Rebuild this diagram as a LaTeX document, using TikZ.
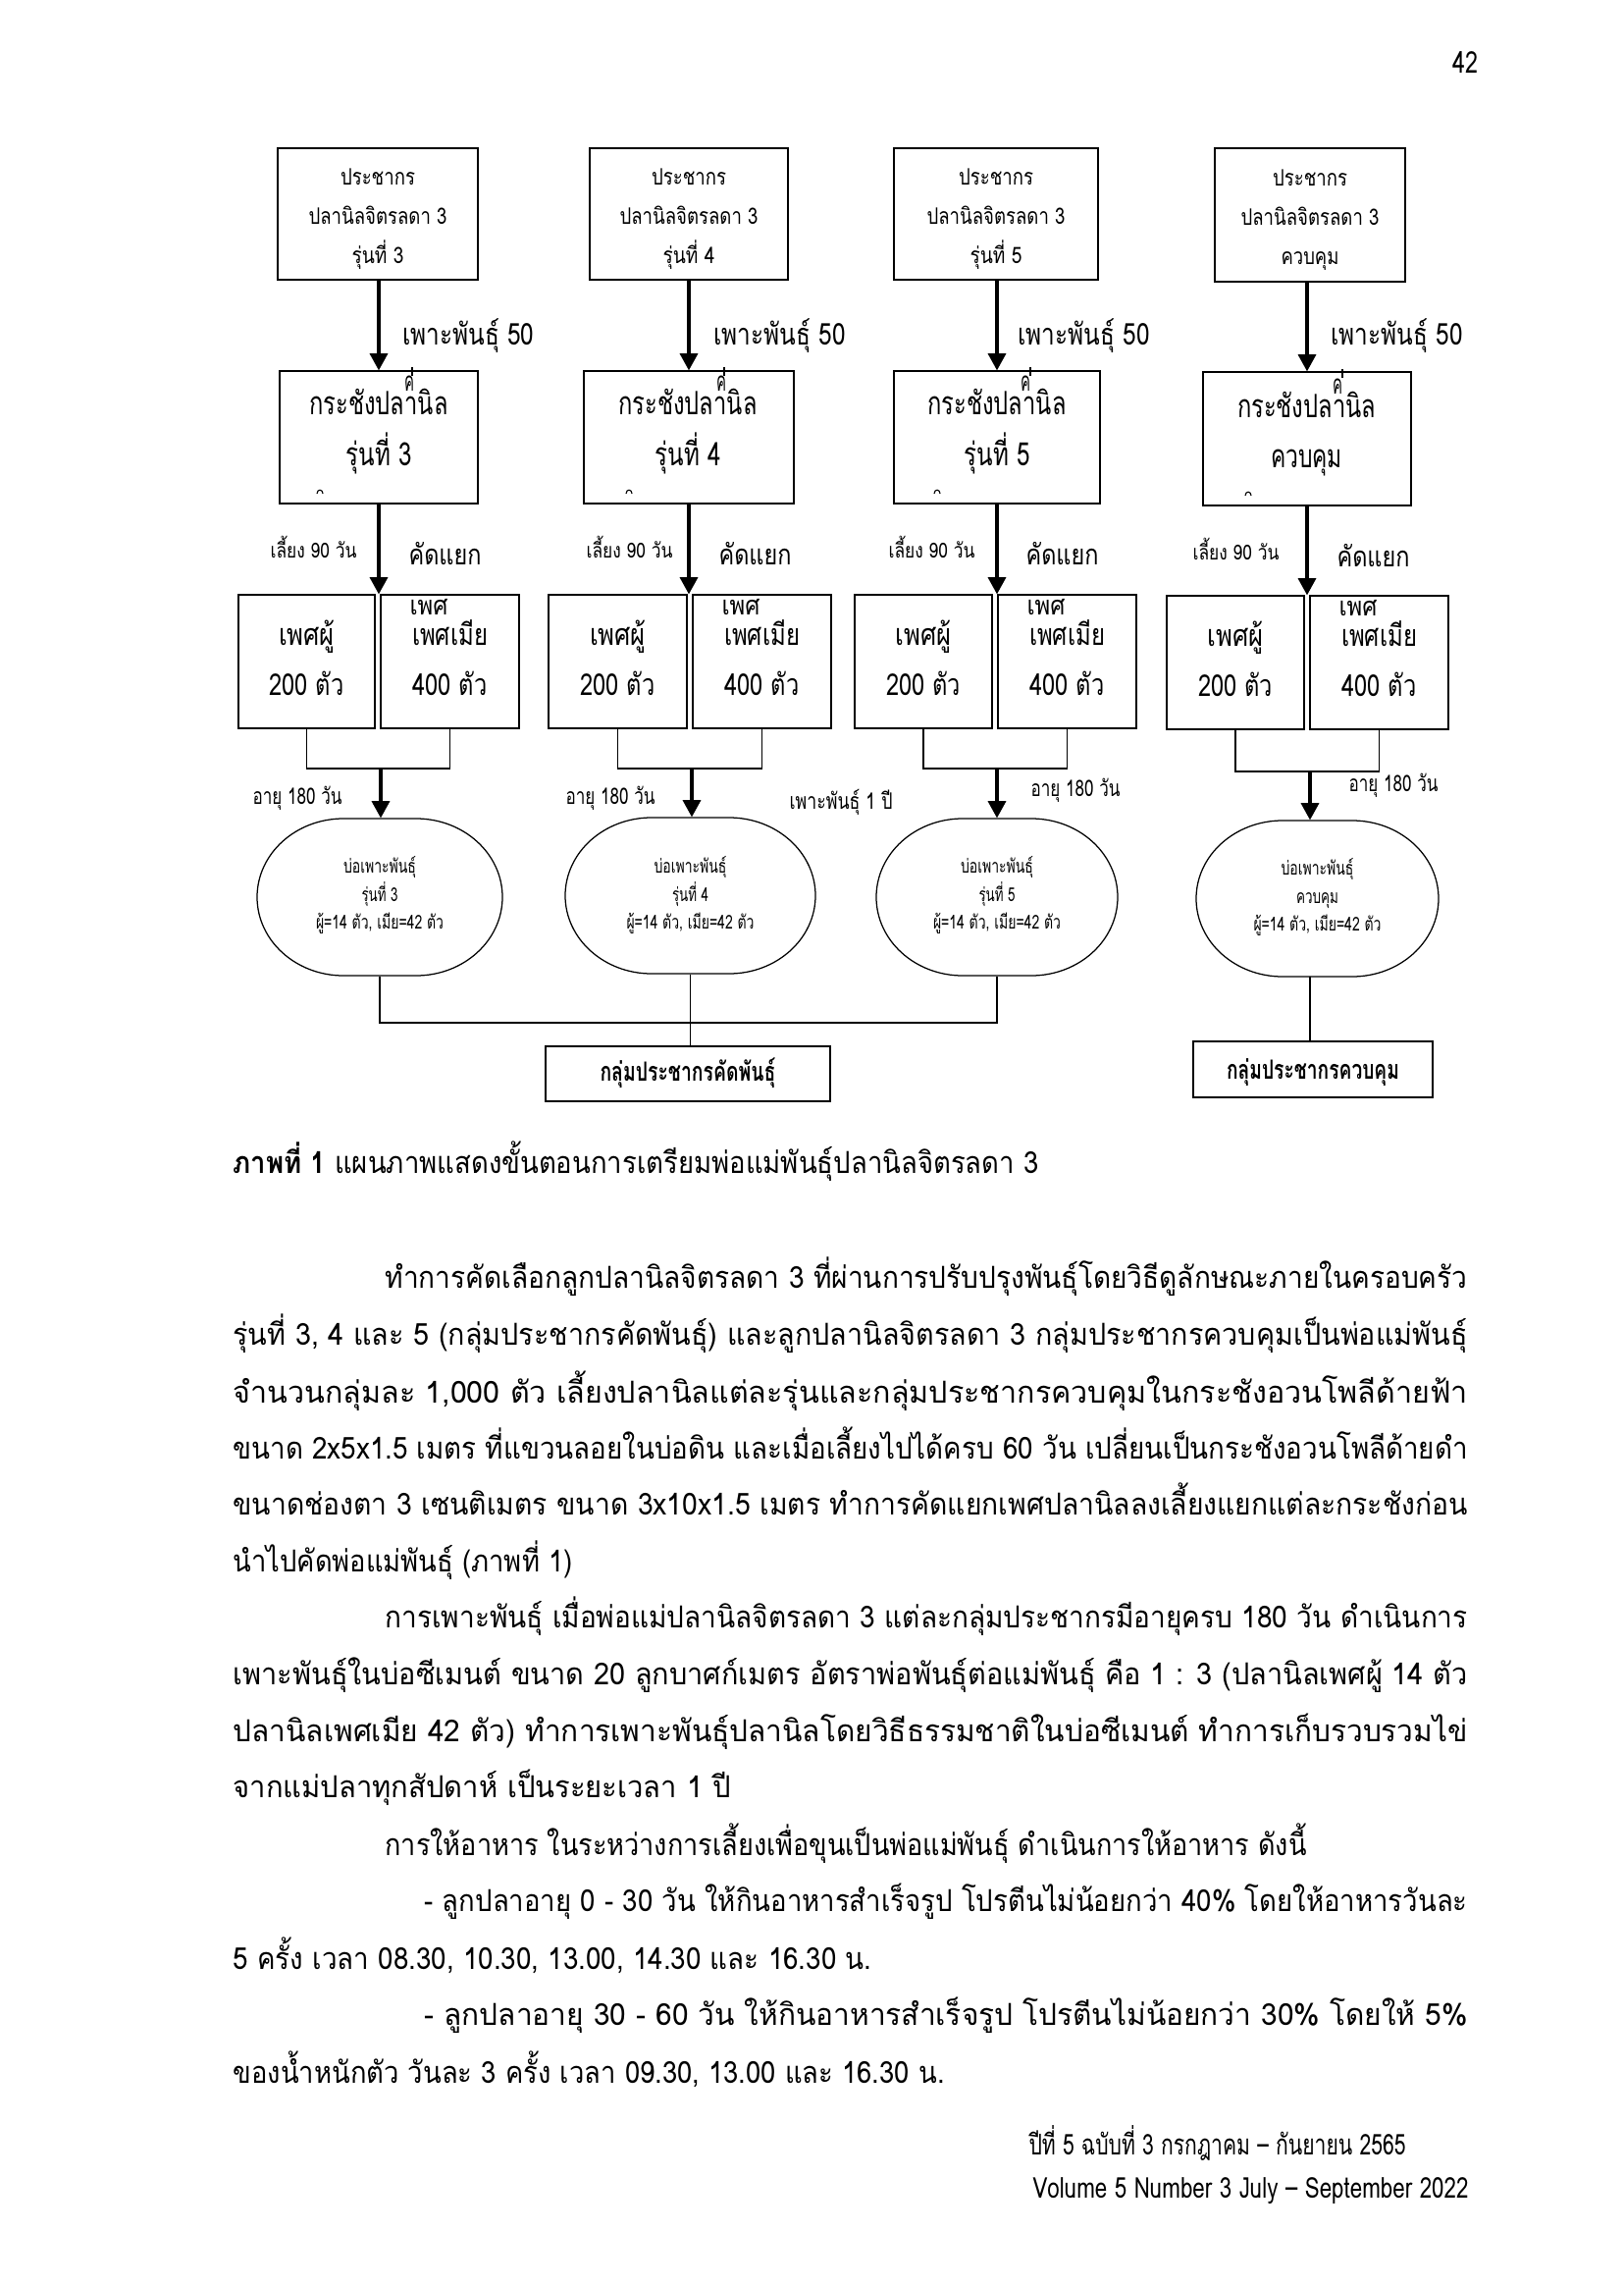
\documentclass[tikz,border=0pt]{standalone}
\usepackage{fontspec}
\usepackage{graphicx}
\usetikzlibrary{arrows.meta,fit}
\newfontfamily\thai[Script=Thai]{Loma}
\newlength\pxu \setlength\pxu{0.36pt}
\newcommand\fitw[2]{\resizebox{#1\pxu}{\height}{#2}}
\newcommand\fs[1]{\fontsize{#1}{#1}\selectfont}
\newcommand\stad[5]{%
 \draw[thinln] ({#1+#5},#2) -- ({#3-#5},#2)
  .. controls ({#3-#5+0.5523*#5},#2) and (#3,{(#2+#4)/2-0.5523*(#4-#2)/2}) .. (#3,{(#2+#4)/2})
  .. controls (#3,{(#2+#4)/2+0.5523*(#4-#2)/2}) and ({#3-#5+0.5523*#5},#4) .. ({#3-#5},#4)
  -- ({#1+#5},#4)
  .. controls ({#1+#5-0.5523*#5},#4) and (#1,{(#2+#4)/2+0.5523*(#4-#2)/2}) .. (#1,{(#2+#4)/2})
  .. controls (#1,{(#2+#4)/2-0.5523*(#4-#2)/2}) and ({#1+#5-0.5523*#5},#2) .. cycle;}
\tikzset{
  box/.style={draw, line width=0.45pt, inner sep=0pt},
  ghost/.style={inner sep=0pt},
  lbl/.style={inner sep=0pt, anchor=base},
  lblw/.style={inner sep=0pt, anchor=base west},
  arr/.style={line width=1.1pt, -{Triangle[width=6.5pt,length=6.2pt]}},
  thinln/.style={line width=0.45pt},
}
\begin{document}
\begin{tikzpicture}[x=0.36pt,y=-0.36pt, every node/.style={font=\thai}]
\fill[white] (0,0) rectangle (1654,2327);
\useasboundingbox (0,0) rectangle (1654,2327);

% page number
\node[lblw] (pg) at (1480,75) {\fs{11}\fitw{26}{42}};

% ---------- row A
\node[box, fit={(283,151) (487,285)}] (A1) {};
\node[box, fit={(601,151) (803,285)}] (A2) {};
\node[box, fit={(911,151) (1119,285)}] (A3) {};
\node[box, fit={(1238,151) (1432,287)}] (A4) {};
\foreach \n/\x/\dy/\t/\w in {1/385/0/รุ่นที่ 3/53, 2/702/0/รุ่นที่ 4/53, 3/1015/0/รุ่นที่ 5/53, 4/1335/1/ควบคุม/59}{
  \node[lbl] (A\n a) at (\x,189+\dy) {\fs{8.3}\fitw{76}{ประชากร}};
  \node[lbl] (A\n b) at (\x,229+\dy) {\fs{8.3}\fitw{141}{ปลานิลจิตรลดา 3}};
  \node[lbl] (A\n c) at (\x,269+\dy) {\fs{8.3}\fitw{\w}{\t}};
}

% ---------- row B
\node[box, fit={(285,378) (487,513)}] (B1) {};
\node[box, fit={(595,378) (809,513)}] (B2) {};
\node[box, fit={(911,378) (1121,513)}] (B3) {};
\node[box, fit={(1226,379) (1438,515)}] (B4) {};
\foreach \n/\x/\dy/\t/\w/\kx/\tx/\mx in {1/386/0/รุ่นที่ 3/67/417/420/326, 2/701/0/รุ่นที่ 4/67/735/738/641, 3/1016/0/รุ่นที่ 5/67/1045/1050/955, 4/1331.5/2/ควบคุม/73/1363/1368/1272}{
  \node[lbl] (B\n a) at (\x,423+\dy) {\fs{11.8}\fitw{141}{กระชังปลานิล}};
  \node[lbl] (B\n b) at (\x,474+\dy) {\fs{11.8}\fitw{\w}{\t}};
  \node[lbl] (B\n k) at (\kx,399+\dy) {\fs{10}\fitw{10}{ค}};
  \draw[thinln] (\tx,374+\dy) -- (\tx,383+\dy);
  \draw[line width=0.4pt] (\mx-3,503+\dy) .. controls (\mx-3,498+\dy) and (\mx+3,498+\dy) .. (\mx+3,503+\dy);
}

% labels between A and B
\foreach \n/\x in {1/410, 2/727, 3/1037, 4/1356}{
  \node[lblw] (P\n) at (\x,351) {\fs{11}\fitw{134}{เพาะพันธุ์ 50}};
}
% labels between B and C
\foreach \n/\x/\y/\dy in {1/275/416/0, 2/597/732/0, 3/905/1045/0, 4/1215/1362/2}{
  \node[lblw] (R\n) at (\x,568+\dy) {\fs{7.6}\fitw{88}{เลี้ยง 90 วัน}};
  \node[lblw] (S\n) at (\y,575+\dy) {\fs{10.4}\fitw{74}{คัดแยก}};
}

% ---------- row C
\node[box, fit={(243,606) (382,742)}] (C1m) {};
\node[box, fit={(388,606) (529,742)}] (C1f) {};
\node[box, fit={(559,606) (700,742)}] (C2m) {};
\node[box, fit={(706,606) (847,742)}] (C2f) {};
\node[box, fit={(871,606) (1011,742)}] (C3m) {};
\node[box, fit={(1017,606) (1158,742)}] (C3f) {};
\node[box, fit={(1189,607) (1329,743)}] (C4m) {};
\node[box, fit={(1335,607) (1476,743)}] (C4f) {};
\foreach \n/\m/\f/\fl/\dy in {1/312.5/458.5/388/0, 2/629.5/776.5/706/0, 3/941/1087.5/1017/0, 4/1259/1405.5/1335/1}{
  \node[lbl] (C\n ma) at (\m,657+\dy) {\fs{11}\fitw{57}{เพศผู้}};
  \node[lbl] (C\n mb) at (\m,708+\dy) {\fs{11}\fitw{76}{200 ตัว}};
  \node[lblw] (C\n fz) at (\fl+29,626+\dy) {\fs{9.7}\fitw{39}{เพศ}};
  \node[lbl] (C\n fa) at (\f,657+\dy) {\fs{11}\fitw{77}{เพศเมีย}};
  \node[lbl] (C\n fb) at (\f,708+\dy) {\fs{11}\fitw{76}{400 ตัว}};
}

% ---------- row D
\node[ghost, fit={(262,834) (512,994)}] (D1) {};
\node[ghost, fit={(576,833) (831,992)}] (D2) {};
\node[ghost, fit={(893,834) (1139,994)}] (D3) {};
\node[ghost, fit={(1219,836) (1466,995)}] (D4) {};
\stad{262}{834}{512}{994}{88}
\stad{576}{833}{831}{992}{88}
\stad{893}{834}{1139}{994}{88}
\stad{1219}{836}{1466}{995}{88}
\foreach \n/\x/\dy/\t/\w in {1/387/0/รุ่นที่ 3/37, 2/703.5/0/รุ่นที่ 4/37, 3/1016/0/รุ่นที่ 5/37, 4/1342.5/2/ควบคุม/43}{
  \node[lbl] (D\n a) at (\x,889+\dy) {\fs{7}\fitw{74}{บ่อเพาะพันธุ์}};
  \node[lbl] (D\n b) at (\x,918+\dy) {\fs{7}\fitw{\w}{\t}};
  \node[lbl] (D\n c) at (\x,946+\dy) {\fs{7}\fitw{130}{ผู้=14 ตัว, เมีย=42 ตัว}};
}
% labels between C and D
\foreach \n/\x/\y in {1/257/819, 2/576/819, 3/1050/811, 4/1374/806}{
  \node[lblw] (G\n) at (\x,\y) {\fs{8.3}\fitw{91}{อายุ 180 วัน}};
}
\node[lblw] (H1) at (804,824) {\fs{8.3}\fitw{105}{เพาะพันธุ์ 1 ปี}};

% ---------- row E
\node[box, fit={(556,1066) (846,1122)}] (E1) {};
\node[box, fit={(1216,1061) (1460,1118)}] (E2) {};
\node[lbl] (E1t) at (701,1101) {\fs{9.7}\fitw{179}{\bfseries กลุ่มประชากรคัดพันธุ์}};
\node[lbl] (E2t) at (1338,1099) {\fs{9.7}\fitw{176}{\bfseries กลุ่มประชากรควบคุม}};

% ---------- connectors
\foreach \n in {1,2,3,4}{
  \draw[arr] (B\n.north |- A\n.south) -- (B\n.north);
  \draw[arr] (B\n.south) -- (B\n.south |- C\n m.north);
}
\coordinate (K1) at (385.5,783);
\coordinate (K2) at (703,783);
\coordinate (K3) at (1014,783);
\coordinate (K4) at (1332,786);
\foreach \n/\ax in {1/388, 2/705, 3/1016, 4/1335}{
  \draw[thinln] (C\n m.south) |- (K\n) -| (C\n f.south);
  \coordinate (Q\n) at (\ax,0);
  \draw[arr] (Q\n |- K\n) -- (Q\n |- D\n.north);
}
\coordinate (J) at (703,1042);
\draw[thinln] (D1.south) |- (J) -| (D3.south);
\draw[thinln] (D2.south) -- (D2.south |- E1.north);
\coordinate (D4b) at (1335,995);
\draw[thinln] (D4b) -- (D4b |- E2.north);

% ---------- caption and body
\node[lblw] (cap) at (237,1195) {\fs{11.1}\fitw{821}{\textbf{ภาพที่ 1} แผนภาพแสดงขั้นตอนการเตรียมพ่อแม่พันธุ์ปลานิลจิตรลดา 3}};
\node[lblw] (L1) at (392,1312) {\fs{11.1}\fitw{1103}{ทำการคัดเลือกลูกปลานิลจิตรลดา 3 ที่ผ่านการปรับปรุงพันธุ์โดยวิธีดูลักษณะภายในครอบครัว}};
\node[lblw] (L2) at (237,1370) {\fs{11.1}\fitw{1258}{รุ่นที่ 3, 4 และ 5 (กลุ่มประชากรคัดพันธุ์) และลูกปลานิลจิตรลดา 3 กลุ่มประชากรควบคุมเป็นพ่อแม่พันธุ์}};
\node[lblw] (L3) at (237,1429) {\fs{11.1}\fitw{1258}{จำนวนกลุ่มละ 1,000 ตัว เลี้ยงปลานิลแต่ละรุ่นและกลุ่มประชากรควบคุมในกระชังอวนโพลีด้ายฟ้า}};
\node[lblw] (L4) at (237,1486) {\fs{11.1}\fitw{1258}{ขนาด 2x5x1.5 เมตร ที่แขวนลอยในบ่อดิน และเมื่อเลี้ยงไปได้ครบ 60 วัน เปลี่ยนเป็นกระชังอวนโพลีด้ายดำ}};
\node[lblw] (L5) at (237,1543) {\fs{11.1}\fitw{1258}{ขนาดช่องตา 3 เซนติเมตร ขนาด 3x10x1.5 เมตร ทำการคัดแยกเพศปลานิลลงเลี้ยงแยกแต่ละกระชังก่อน}};
\node[lblw] (L6) at (237,1601) {\fs{11.1}\fitw{346}{นำไปคัดพ่อแม่พันธุ์ (ภาพที่ 1)}};
\node[lblw] (L7) at (392,1658) {\fs{11.1}\fitw{1103}{การเพาะพันธุ์ เมื่อพ่อแม่ปลานิลจิตรลดา 3 แต่ละกลุ่มประชากรมีอายุครบ 180 วัน ดำเนินการ}};
\node[lblw] (L8) at (237,1716) {\fs{11.1}\fitw{1258}{เพาะพันธุ์ในบ่อซีเมนต์ ขนาด 20 ลูกบาศก์เมตร อัตราพ่อพันธุ์ต่อแม่พันธุ์ คือ 1 : 3 (ปลานิลเพศผู้ 14 ตัว}};
\node[lblw] (L9) at (237,1774) {\fs{11.1}\fitw{1258}{ปลานิลเพศเมีย 42 ตัว) ทำการเพาะพันธุ์ปลานิลโดยวิธีธรรมชาติในบ่อซีเมนต์ ทำการเก็บรวบรวมไข่}};
\node[lblw] (L10) at (237,1831) {\fs{11.1}\fitw{507}{จากแม่ปลาทุกสัปดาห์ เป็นระยะเวลา 1 ปี}};
\node[lblw] (L11) at (392,1890) {\fs{11.1}\fitw{939}{การให้อาหาร ในระหว่างการเลี้ยงเพื่อขุนเป็นพ่อแม่พันธุ์ ดำเนินการให้อาหาร ดังนี้}};
\node[lblw] (L12) at (432,1947) {\fs{11.1}\fitw{1063}{- ลูกปลาอายุ 0 - 30 วัน ให้กินอาหารสำเร็จรูป โปรตีนไม่น้อยกว่า 40\% โดยให้อาหารวันละ}};
\node[lblw] (L13) at (237,2006) {\fs{11.1}\fitw{651}{5 ครั้ง เวลา 08.30, 10.30, 13.00, 14.30 และ 16.30 น.}};
\node[lblw] (L14) at (432,2063) {\fs{11.1}\fitw{1063}{- ลูกปลาอายุ 30 - 60 วัน ให้กินอาหารสำเร็จรูป โปรตีนไม่น้อยกว่า 30\% โดยให้ 5\%}};
\node[lblw] (L15) at (237,2122) {\fs{11.1}\fitw{725}{ของน้ำหนักตัว วันละ 3 ครั้ง เวลา 09.30, 13.00 และ 16.30 น.}};
\node[lblw] (F1) at (1048,2195) {\fs{10.5}\fitw{384}{ปีที่ 5 ฉบับที่ 3 กรกฎาคม – กันยายน 2565}};
\node[lblw] (F2) at (1052,2239) {\fs{10.5}\fitw{444}{Volume 5 Number 3 July – September 2022}};
\end{tikzpicture}
\end{document}
